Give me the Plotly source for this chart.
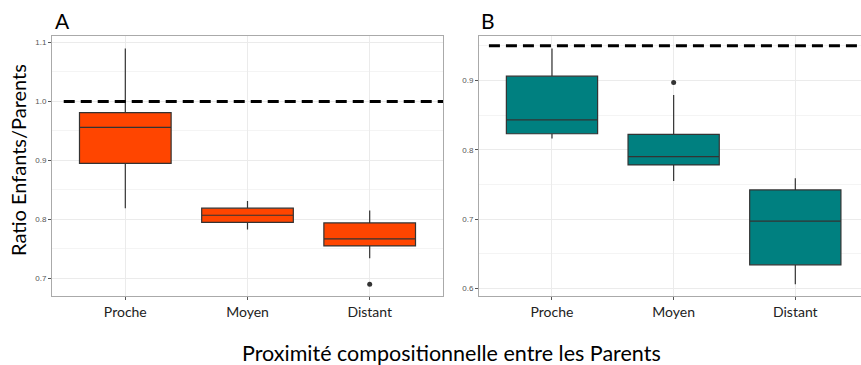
import plotly.graph_objects as go

categories = ["Proche", "Moyen", "Distant"]

# Panel A statistics
a_lower = [0.819, 0.783, 0.734]
a_q1 = [0.895, 0.795, 0.755]
a_median = [0.956, 0.807, 0.767]
a_q3 = [0.981, 0.819, 0.794]
a_upper = [1.090, 0.831, 0.815]
a_out_cat = ["Distant"]
a_out_val = [0.690]
a_ref = 1.0

# Panel B statistics
b_lower = [0.816, 0.755, 0.606]
b_q1 = [0.823, 0.778, 0.634]
b_median = [0.843, 0.790, 0.697]
b_q3 = [0.906, 0.822, 0.742]
b_upper = [0.946, 0.879, 0.759]
b_out_cat = ["Moyen"]
b_out_val = [0.897]
b_ref = 0.95

W, H = 861, 365
def fx(px): return px / W
def fy(py): return 1 - py / H

fig = go.Figure()

def add_panel(xa, ya, lower, q1, med, q3, upper, oc, ov, color):
    fig.add_trace(go.Box(
        x=categories, lowerfence=lower, q1=q1, median=med, q3=q3, upperfence=upper,
        fillcolor=color, line=dict(color="#333333", width=1.2), width=0.75,
        whiskerwidth=0, boxpoints=False, xaxis=xa, yaxis=ya, showlegend=False,
        hoverinfo="skip"))
    fig.add_trace(go.Scatter(
        x=oc, y=ov, mode="markers", marker=dict(color="#333333", size=5),
        xaxis=xa, yaxis=ya, showlegend=False, hoverinfo="skip"))

add_panel("x", "y", a_lower, a_q1, a_median, a_q3, a_upper, a_out_cat, a_out_val, "#FF4500")
add_panel("x2", "y2", b_lower, b_q1, b_median, b_q3, b_upper, b_out_cat, b_out_val, "#008080")

ydom = [fy(296), fy(36)]
common_x = dict(type="category", showgrid=True, gridcolor="#ebebeb", gridwidth=1,
                showline=True, linecolor="#aaaaaa", linewidth=1, mirror=True,
                ticks="outside", ticklen=3, tickcolor="#555555", zeroline=False,
                tickfont=dict(family="Lato", size=14, color="#222222"))
common_y = dict(showgrid=True, gridcolor="#ebebeb", gridwidth=1,
                showline=True, linecolor="#aaaaaa", linewidth=1, mirror=True,
                ticks="outside", ticklen=3, tickcolor="#555555", zeroline=False,
                tickformat=".1f", dtick=0.1,
                minor=dict(dtick=0.05, showgrid=True, gridcolor="#f4f4f4", ticks=""),
                tickfont=dict(family="Liberation Sans", size=8, color="#555555"))

fig.update_layout(
    width=W, height=H, margin=dict(l=0, r=0, t=0, b=0),
    paper_bgcolor="white", plot_bgcolor="white",
    xaxis=dict(common_x, domain=[fx(52), fx(443)], range=[-0.6, 2.6], anchor="y"),
    yaxis=dict(common_y, domain=ydom, range=[0.670, 1.111], tick0=0.7, anchor="x"),
    xaxis2=dict(common_x, domain=[fx(479), 1.0], range=[-0.6, 2.54], anchor="y2"),
    yaxis2=dict(common_y, domain=ydom, range=[0.589, 0.964], tick0=0.6, anchor="x2"),
)

fig.add_shape(type="line", xref="x domain", yref="y", x0=0.03, x1=1, y0=a_ref, y1=a_ref,
              line=dict(color="black", width=3, dash="11px,6px"))
fig.add_shape(type="line", xref="x2 domain", yref="y2", x0=0.026, x1=1, y0=b_ref, y1=b_ref,
              line=dict(color="black", width=3, dash="11px,6px"))

fig.add_annotation(text="A", xref="paper", yref="paper", x=fx(53), y=fy(35),
                   xanchor="left", yanchor="bottom", showarrow=False,
                   font=dict(family="Lato", size=21, color="black"))
fig.add_annotation(text="B", xref="paper", yref="paper", x=fx(479), y=fy(35),
                   xanchor="left", yanchor="bottom", showarrow=False,
                   font=dict(family="Lato", size=21, color="black"))
fig.add_annotation(text="Ratio Enfants/Parents", xref="paper", yref="paper",
                   x=fx(18), y=fy(160), textangle=-90, showarrow=False,
                   xanchor="center", yanchor="middle",
                   font=dict(family="Lato", size=20, color="black"))
fig.add_annotation(text="Proximité compositionnelle entre les Parents", xref="paper", yref="paper",
                   x=fx(451), y=fy(353), showarrow=False, xanchor="center", yanchor="middle",
                   font=dict(family="Lato", size=21.5, color="black"))

fig.write_html("out.html", config={"displayModeBar": False},
               post_script="document.body.style.margin='0';document.body.style.overflow='hidden';")
